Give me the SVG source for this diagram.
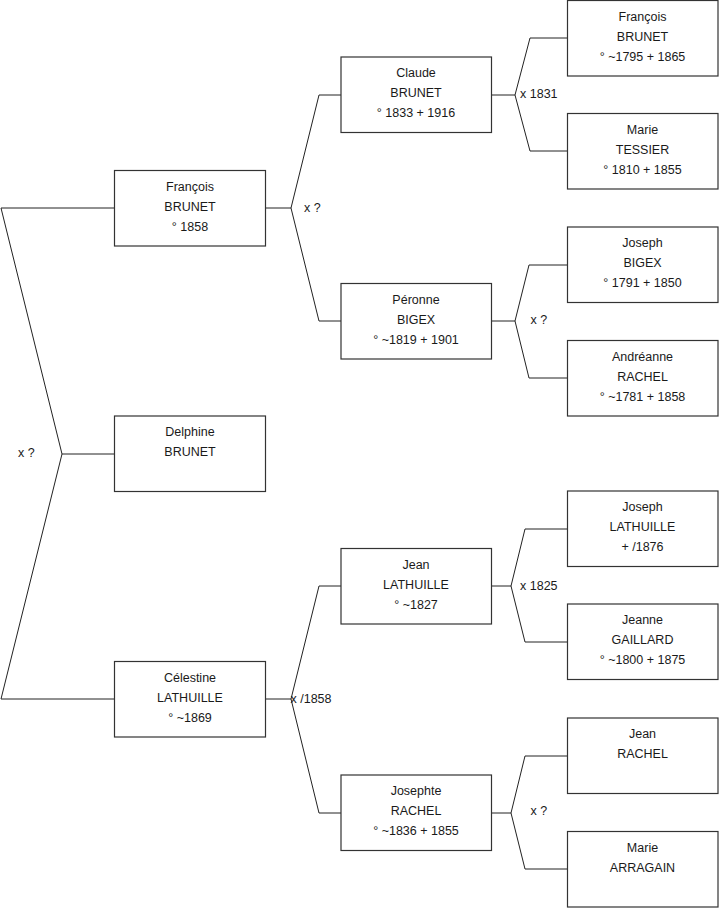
<svg xmlns="http://www.w3.org/2000/svg" width="719" height="908" viewBox="0 0 719 908">
<style>
.box{fill:#fff;stroke:#333;stroke-width:1.2}
.c{fill:none;stroke:#222;stroke-width:1}
text{font-family:"Liberation Sans",Arial,sans-serif;font-size:12.5px;fill:#1a1a1a}
.n text{text-anchor:middle}
</style>
<rect width="719" height="908" fill="#fff"/>
<g id="connectors">
<polyline class="c" points="114.5,208 1,208 62,454 1,699 114.5,699"/>
<line class="c" x1="62" y1="454" x2="114.5" y2="454"/>
<line class="c" x1="265.5" y1="208" x2="291" y2="208"/>
<polyline class="c" points="341,95 319,95 291,208 319,321 341,321"/>
<line class="c" x1="265.5" y1="699" x2="291" y2="699"/>
<polyline class="c" points="341,586 319,586 291,699 319,813 341,813"/>
<line class="c" x1="491.5" y1="95" x2="515" y2="95"/>
<polyline class="c" points="567.5,38 530,38 515,95 530,151 567.5,151"/>
<line class="c" x1="491.5" y1="321" x2="515" y2="321"/>
<polyline class="c" points="567.5,265 529,265 515,321 529,378 567.5,378"/>
<line class="c" x1="491.5" y1="586" x2="511" y2="586"/>
<polyline class="c" points="567.5,529 525,529 511,586 525,642 567.5,642"/>
<line class="c" x1="491.5" y1="813" x2="511" y2="813"/>
<polyline class="c" points="567.5,756 525,756 511,813 525,869 567.5,869"/>
<text x="18" y="457">x ?</text>
<text x="304" y="212">x ?</text>
<text x="290.5" y="703">x /1858</text>
<text x="520" y="98">x 1831</text>
<text x="530.5" y="324">x ?</text>
<text x="520" y="590">x 1825</text>
<text x="530.5" y="815">x ?</text>
</g>
<g id="francois1858" class="n"><rect class="box" x="114.5" y="170.5" width="151" height="75.5"/><text x="190" y="190.5">François</text><text x="190" y="210.5">BRUNET</text><text x="190" y="230.5">° 1858</text></g>
<g id="delphine" class="n"><rect class="box" x="114.5" y="416" width="151" height="75.5"/><text x="190" y="436">Delphine</text><text x="190" y="456">BRUNET</text></g>
<g id="celestine" class="n"><rect class="box" x="114.5" y="661.5" width="151" height="75.5"/><text x="190" y="681.5">Célestine</text><text x="190" y="701.5">LATHUILLE</text><text x="190" y="721.5">° ~1869</text></g>
<g id="claude" class="n"><rect class="box" x="341" y="57" width="150.5" height="75.5"/><text x="416" y="77">Claude</text><text x="416" y="97">BRUNET</text><text x="416" y="117">° 1833 + 1916</text></g>
<g id="peronne" class="n"><rect class="box" x="341" y="283.5" width="150.5" height="75.5"/><text x="416" y="303.5">Péronne</text><text x="416" y="323.5">BIGEX</text><text x="416" y="343.5">° ~1819 + 1901</text></g>
<g id="jean1827" class="n"><rect class="box" x="341" y="548.5" width="150.5" height="75.5"/><text x="416" y="568.5">Jean</text><text x="416" y="588.5">LATHUILLE</text><text x="416" y="608.5">° ~1827</text></g>
<g id="josephte" class="n"><rect class="box" x="341" y="775" width="150.5" height="75.5"/><text x="416" y="795">Josephte</text><text x="416" y="815">RACHEL</text><text x="416" y="835">° ~1836 + 1855</text></g>
<g id="francois1795" class="n"><rect class="box" x="567.5" y="0.5" width="150.5" height="75.5"/><text x="642.5" y="20.5">François</text><text x="642.5" y="40.5">BRUNET</text><text x="642.5" y="60.5">° ~1795 + 1865</text></g>
<g id="marietessier" class="n"><rect class="box" x="567.5" y="113.5" width="150.5" height="75.5"/><text x="642.5" y="133.5">Marie</text><text x="642.5" y="153.5">TESSIER</text><text x="642.5" y="173.5">° 1810 + 1855</text></g>
<g id="josephbigex" class="n"><rect class="box" x="567.5" y="227" width="150.5" height="75.5"/><text x="642.5" y="247">Joseph</text><text x="642.5" y="267">BIGEX</text><text x="642.5" y="287">° 1791 + 1850</text></g>
<g id="andreanne" class="n"><rect class="box" x="567.5" y="340.5" width="150.5" height="75.5"/><text x="642.5" y="360.5">Andréanne</text><text x="642.5" y="380.5">RACHEL</text><text x="642.5" y="400.5">° ~1781 + 1858</text></g>
<g id="josephlathuille" class="n"><rect class="box" x="567.5" y="491" width="150.5" height="75.5"/><text x="642.5" y="511">Joseph</text><text x="642.5" y="531">LATHUILLE</text><text x="642.5" y="551">+ /1876</text></g>
<g id="jeanne" class="n"><rect class="box" x="567.5" y="604" width="150.5" height="75.5"/><text x="642.5" y="624">Jeanne</text><text x="642.5" y="644">GAILLARD</text><text x="642.5" y="664">° ~1800 + 1875</text></g>
<g id="jeanrachel" class="n"><rect class="box" x="567.5" y="718" width="150.5" height="75.5"/><text x="642.5" y="738">Jean</text><text x="642.5" y="758">RACHEL</text></g>
<g id="mariearragain" class="n"><rect class="box" x="567.5" y="831.5" width="150.5" height="75.5"/><text x="642.5" y="851.5">Marie</text><text x="642.5" y="871.5">ARRAGAIN</text></g>
</svg>
